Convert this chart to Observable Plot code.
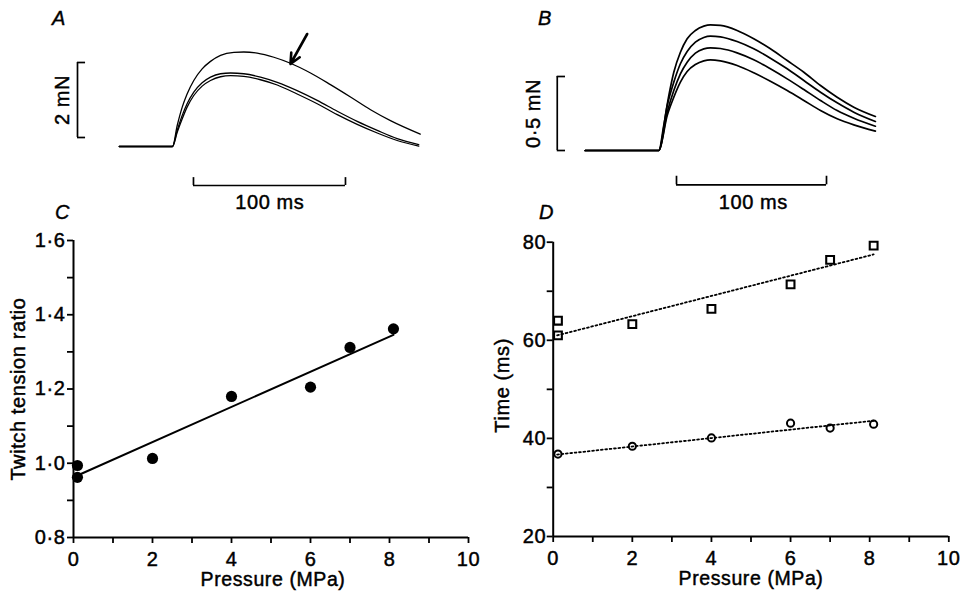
<!DOCTYPE html>
<html><head><meta charset="utf-8">
<script src="https://cdn.jsdelivr.net/npm/d3@7"></script>
<script src="https://cdn.jsdelivr.net/npm/@observablehq/plot@0.6"></script>
<style>
body{margin:0;background:#fff;}
#fig{position:relative;width:964px;height:595px;background:#fff;font-family:"Liberation Sans",Arial,sans-serif;color:#000;}
.panel{position:absolute;}
.letter{position:absolute;font-style:italic;font-size:20px;line-height:20px;-webkit-text-stroke:0.4px #000;}
#fig svg text{stroke:#000;stroke-width:0.45px;}
</style></head><body><div id="fig"></div>
<script>
// ---- Panel A: twitch traces (time ms, force mN)
const traceATop = [[-35,0],[0,0],[3.1,0.56],[6.4,1.05],[9.6,1.40],[14,1.76],[19.5,2.07],[25,2.27],[31.6,2.43],[40.4,2.51],[46.9,2.52],[55.7,2.49],[66.7,2.38],[77.6,2.22],[90.8,1.96],[103.9,1.65],[117.1,1.32],[130.3,0.98],[143.4,0.69],[163,0.33]];
const traceAMid = [[-35,0],[0,0],[3.1,0.43],[6.4,0.83],[9.6,1.14],[14,1.45],[19.5,1.70],[25,1.85],[31.6,1.94],[38.2,1.96],[46.9,1.94],[57.9,1.85],[68.9,1.71],[82,1.49],[95.2,1.23],[108.4,0.94],[121.5,0.67],[134.7,0.43],[147.8,0.21],[162,0.05]];
const traceALow = [[-35,0],[0,0],[3.1,0.38],[6.4,0.74],[9.6,1.05],[14,1.36],[19.5,1.61],[25,1.76],[31.6,1.86],[38.2,1.89],[46.9,1.87],[57.9,1.78],[68.9,1.64],[82,1.40],[95.2,1.14],[108.4,0.85],[121.5,0.59],[134.7,0.36],[147.8,0.16],[162,0.01]];
const arrowA = [{t1: 88.6, f1: 3.0, t2: 77.6, f2: 2.2}];
const scaleBarA = {force: 2, time: 100, forceLabel: "2 mN", timeLabel: "100 ms"};

// ---- Panel B: twitch traces
const traceB1 = [[-49,0],[0,0],[3.3,0.169],[6.7,0.372],[10,0.529],[14.4,0.664],[18.9,0.755],[24.4,0.811],[30,0.840],[34.4,0.849],[41.1,0.845],[52.2,0.811],[63.3,0.755],[74.4,0.687],[85.6,0.608],[96.7,0.529],[107.8,0.439],[118.9,0.360],[130,0.293],[144.4,0.230]];
const traceB2 = [[-49,0],[0,0],[5.6,0.304],[10,0.462],[14.4,0.586],[18.9,0.669],[24.4,0.732],[30,0.764],[34.4,0.773],[41.1,0.768],[52.2,0.736],[63.3,0.687],[74.4,0.624],[85.6,0.552],[96.7,0.473],[107.8,0.394],[118.9,0.322],[130,0.259],[144.4,0.196]];
const traceB3 = [[-49,0],[0,0],[5.6,0.259],[10,0.405],[14.4,0.518],[18.9,0.597],[24.4,0.658],[30,0.687],[34.4,0.694],[41.1,0.689],[52.2,0.660],[63.3,0.613],[74.4,0.552],[85.6,0.484],[96.7,0.412],[107.8,0.338],[118.9,0.270],[130,0.218],[144.4,0.164]];
const traceB4 = [[-49,0],[0,0],[5.6,0.236],[10,0.360],[14.4,0.462],[18.9,0.534],[24.4,0.581],[30,0.606],[34.4,0.613],[41.1,0.606],[52.2,0.574],[63.3,0.525],[74.4,0.468],[85.6,0.405],[96.7,0.338],[107.8,0.270],[118.9,0.214],[130,0.173],[144.4,0.131]];
const scaleBarB = {force: 0.5, time: 100, forceLabel: "0·5 mN", timeLabel: "100 ms"};

// ---- Panel C: twitch tension ratio vs pressure
const cPressure = [0.1, 0.1, 2, 4, 6, 7, 8.1];
const cRatio = [0.994, 0.962, 1.013, 1.18, 1.205, 1.312, 1.362];
const cFitX = [0.1, 8.1];
const cFitY = [0.967, 1.346];
const cYTicks = [0.8, 1.0, 1.2, 1.4, 1.6];
const cYMinor = [0.9, 1.1, 1.3, 1.5];
const cYLabel = "Twitch tension ratio";

// ---- Panel D: times vs pressure
const dSqX = [0.12, 0.12, 2, 4, 6, 7, 8.1];
const dSqY = [64, 61, 63.3, 66.4, 71.4, 76.4, 79.3];
const dCiX = [0.12, 2, 4, 6, 7, 8.1];
const dCiY = [36.8, 38.4, 40.1, 43.1, 42.1, 42.9];
const dSqFitX = [0.1, 8.1], dSqFitY = [61.0, 77.5];
const dCiFitX = [0.1, 8.1], dCiFitY = [36.7, 43.6];
const dYTicks = [20, 40, 60, 80];
const dYMinor = [30, 50, 70];
const dYLabel = "Time (ms)";

const xTicks = [0, 2, 4, 6, 8, 10];
const xMinor = [1, 3, 5, 7, 9];
const xLabel = "Pressure (MPa)";

const FONT = "'Liberation Sans', Arial, Helvetica, sans-serif";
const baseStyle = {background: "transparent", fontFamily: FONT, fontSize: "20px", letterSpacing: "0.6px", color: "black", overflow: "visible"};
const fig = document.getElementById("fig");
function place(el, left, top) {
  const w = document.createElement("div");
  w.className = "panel"; w.style.left = left + "px"; w.style.top = top + "px";
  w.appendChild(el); fig.appendChild(w);
}
function letter(txt, left, top) {
  const d = document.createElement("div");
  d.className = "letter"; d.textContent = txt;
  d.style.left = left + "px"; d.style.top = top + "px";
  fig.appendChild(d);
}
const tx = d => d[0], fy = d => d[1];
const dec = d => d.toFixed(1).replace(".", "·");

// Panel A
const plotA = Plot.plot({
  width: 480, height: 215, margin: 0, style: baseStyle,
  x: {domain: [-40, 170], range: [111.2, 430.4], axis: null},
  y: {domain: [0, 3], range: [146, 33.5], axis: null},
  marks: [
    Plot.line(traceATop, {x: tx, y: fy, stroke: "black", strokeWidth: 1.3, curve: "monotone-x"}),
    Plot.line(traceAMid, {x: tx, y: fy, stroke: "black", strokeWidth: 1.3, curve: "monotone-x"}),
    Plot.line(traceALow, {x: tx, y: fy, stroke: "black", strokeWidth: 1.3, curve: "monotone-x"}),
    Plot.arrow(arrowA, {x1: "t1", y1: "f1", x2: "t2", y2: "f2", stroke: "black", strokeWidth: 2.6, headLength: 10, headAngle: 50}),
    Plot.ruleX([-62.5], {y1: 0.24, y2: 0.24 + scaleBarA.force, stroke: "black", strokeWidth: 1.7}),
    Plot.ruleY([0.24, 0.24 + scaleBarA.force], {x1: -62.5, x2: -57.2, stroke: "black", strokeWidth: 1.7}),
    Plot.ruleY([-1.04], {x1: 13.8, x2: 13.8 + scaleBarA.time, stroke: "black", strokeWidth: 1.7}),
    Plot.ruleX([13.8, 13.8 + scaleBarA.time], {y1: -1.04, y2: -0.83, stroke: "black", strokeWidth: 1.7}),
    Plot.text([scaleBarA.forceLabel], {x: -72.4, y: 1.24, text: d => d, rotate: -90, fontSize: 20}),
    Plot.text([scaleBarA.timeLabel], {x: 64, y: -1.49, text: d => d, fontSize: 20})
  ]
});
place(plotA, 0, 0);

// Panel B
const plotB = Plot.plot({
  width: 484, height: 215, margin: 0, style: baseStyle,
  x: {domain: [-50, 150], range: [103.3, 403.3], axis: null},
  y: {domain: [0, 1], range: [150, 2], axis: null},
  marks: [
    ...[traceB1, traceB2, traceB3, traceB4].map(tr => Plot.line(tr, {x: tx, y: fy, stroke: "black", strokeWidth: 1.7, curve: "monotone-x"})),
    Plot.ruleX([-67.7], {y1: 0, y2: scaleBarB.force, stroke: "black", strokeWidth: 1.7}),
    Plot.ruleY([0, scaleBarB.force], {x1: -67.7, x2: -62.2, stroke: "black", strokeWidth: 1.7}),
    Plot.ruleY([-0.232], {x1: 11.8, x2: 11.8 + scaleBarB.time, stroke: "black", strokeWidth: 1.7}),
    Plot.ruleX([11.8, 11.8 + scaleBarB.time], {y1: -0.232, y2: -0.174, stroke: "black", strokeWidth: 1.7}),
    Plot.text([scaleBarB.forceLabel], {x: -83.5, y: 0.25, text: d => d, rotate: -90, fontSize: 20}),
    Plot.text([scaleBarB.timeLabel], {x: 63, y: -0.351, text: d => d, fontSize: 20})
  ]
});
place(plotB, 480, 0);

// Panel C
const plotC = Plot.plot({
  width: 480, height: 380, marginLeft: 73, marginRight: 12, marginTop: 25, marginBottom: 58,
  style: baseStyle,
  x: {domain: [0, 10]},
  y: {domain: [0.8, 1.6]},
  marks: [
    Plot.axisX({ticks: xTicks, tickSize: 6, tickPadding: 8, tickFormat: d => String(d), label: null, strokeWidth: 1.8}),
    Plot.axisX({ticks: xMinor, tickSize: 6, tickFormat: () => "", label: null, strokeWidth: 1.8}),
    Plot.axisY({ticks: cYTicks, tickSize: 6, tickPadding: 2, tickFormat: dec, label: null, strokeWidth: 1.8}),
    Plot.axisY({ticks: cYMinor, tickSize: 6, tickFormat: () => "", label: null, strokeWidth: 1.8}),
    Plot.ruleX([0], {stroke: "black", strokeWidth: 2}),
    Plot.ruleY([0.8], {stroke: "black", strokeWidth: 2}),
    Plot.line(cFitX.map((x, i) => ({x, y: cFitY[i]})), {x: "x", y: "y", stroke: "black", strokeWidth: 2}),
    Plot.dot(cPressure.map((x, i) => ({x, y: cRatio[i]})), {x: "x", y: "y", r: 5.6, fill: "black", stroke: "none"}),
    Plot.text([cYLabel], {frameAnchor: "left", rotate: -90, dx: -55, textAnchor: "middle", lineAnchor: "middle", text: d => d, fontSize: 20}),
    Plot.text([xLabel], {frameAnchor: "bottom", dy: 42, dx: 2, textAnchor: "middle", lineAnchor: "middle", text: d => d, fontSize: 19.5})
  ]
});
place(plotC, 0, 215);

// Panel D
const plotD = Plot.plot({
  width: 484, height: 380, marginLeft: 72.7, marginRight: 15.7, marginTop: 26.7, marginBottom: 59,
  style: baseStyle,
  x: {domain: [0, 10]},
  y: {domain: [20, 80]},
  marks: [
    Plot.axisX({ticks: xTicks, tickSize: 6, tickPadding: 8, tickFormat: d => String(d), label: null, strokeWidth: 1.8}),
    Plot.axisX({ticks: xMinor, tickSize: 6, tickFormat: () => "", label: null, strokeWidth: 1.8}),
    Plot.axisY({ticks: dYTicks, tickSize: 6, tickPadding: 1, tickFormat: d => String(d), label: null, strokeWidth: 1.8}),
    Plot.axisY({ticks: dYMinor, tickSize: 6, tickFormat: () => "", label: null, strokeWidth: 1.8}),
    Plot.ruleX([0], {stroke: "black", strokeWidth: 2}),
    Plot.ruleY([20], {stroke: "black", strokeWidth: 2}),
    Plot.line(dSqFitX.map((x, i) => ({x, y: dSqFitY[i]})), {x: "x", y: "y", stroke: "black", strokeWidth: 1.8, strokeDasharray: "1.8,2.6"}),
    Plot.line(dCiFitX.map((x, i) => ({x, y: dCiFitY[i]})), {x: "x", y: "y", stroke: "black", strokeWidth: 1.8, strokeDasharray: "1.8,2.6"}),
    Plot.dot(dSqX.map((x, i) => ({x, y: dSqY[i]})), {x: "x", y: "y", symbol: "square", r: 4.4, fill: "none", stroke: "black", strokeWidth: 2.1}),
    Plot.dot(dCiX.map((x, i) => ({x, y: dCiY[i]})), {x: "x", y: "y", symbol: "circle", r: 3.6, fill: "none", stroke: "black", strokeWidth: 2}),
    Plot.text([dYLabel], {frameAnchor: "left", rotate: -90, dx: -51, dy: -4, textAnchor: "middle", lineAnchor: "middle", text: d => d, fontSize: 20}),
    Plot.text([xLabel], {frameAnchor: "bottom", dy: 42, textAnchor: "middle", lineAnchor: "middle", text: d => d, fontSize: 19.5})
  ]
});
place(plotD, 480, 215);

letter("A", 52, 8);
letter("B", 538, 8);
letter("C", 55, 202);
letter("D", 539, 202);
</script></body></html>
